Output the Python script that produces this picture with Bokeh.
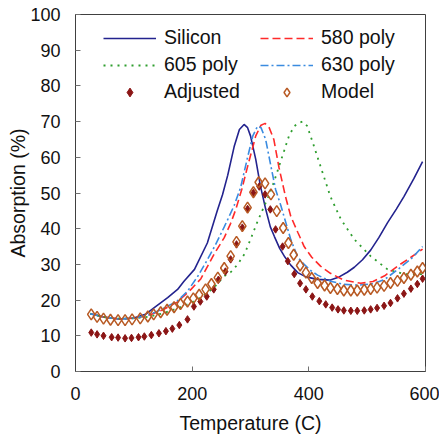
from bokeh.plotting import figure
from bokeh.models import Legend, LegendItem, FixedTicker, Range1d
from bokeh.embed import file_html
from bokeh.resources import INLINE

# ---- data ----
si_t = [25, 50, 75, 100, 120, 135, 158, 175, 186, 204, 226, 243, 252, 261, 272, 281, 289, 295, 300, 309, 317, 326, 334, 341, 350, 358, 369, 381, 395, 415, 437, 452, 466, 478, 492, 506, 520, 535, 550, 563, 580, 595]
si_a = [16.2, 15.2, 14.7, 15.0, 16.0, 17.9, 20.7, 23.0, 25.3, 28.6, 36.0, 45.0, 49.5, 55.0, 63.0, 67.8, 69.2, 68.3, 66.0, 59.4, 52.0, 45.5, 40.5, 37.8, 34.5, 32.3, 29.8, 27.7, 26.5, 25.8, 25.6, 26.5, 27.8, 29.2, 31.3, 34.0, 37.5, 41.7, 45.5, 49.0, 54.0, 58.8]

p580_t = [25, 50, 75, 100, 125, 150, 175, 198, 215, 238, 255, 266, 275, 285, 295, 309, 318, 325, 332, 340, 349, 360, 369, 381, 392, 405, 420, 437, 460, 489, 510, 530, 552, 575, 595]
p580_a = [16.2, 15.2, 14.7, 14.9, 15.7, 17.3, 19.5, 23.0, 26.0, 33.0, 37.5, 41.5, 45.5, 51.0, 57.4, 66.0, 69.0, 69.5, 68.3, 65.0, 57.0, 49.0, 43.5, 39.0, 35.0, 32.0, 29.5, 27.5, 25.6, 24.7, 25.2, 26.8, 29.5, 32.0, 34.3]

p605_t = [25, 50, 75, 100, 125, 150, 170, 198, 212, 226, 240, 255, 266, 278, 290, 300, 312, 324, 332, 340, 349, 358, 366, 375, 382, 389, 397, 406, 420, 437, 455, 478, 506, 535, 563, 580, 595]
p605_a = [16.2, 15.2, 14.8, 14.9, 15.3, 16.3, 17.4, 19.2, 20.5, 22.0, 24.0, 26.7, 27.8, 30.0, 33.0, 37.0, 42.0, 46.5, 49.5, 53.0, 57.5, 62.0, 66.0, 68.7, 69.6, 70.0, 68.8, 64.5, 57.5, 49.0, 42.6, 37.0, 32.3, 28.6, 27.3, 27.2, 27.3]

p630_t = [25, 50, 75, 100, 125, 150, 175, 192, 209, 225, 240, 255, 265, 272, 283, 295, 304, 312, 318, 326, 335, 343, 352, 360, 369, 381, 392, 403, 415, 437, 460, 485, 510, 530, 552, 575, 595]
p630_a = [16.2, 15.2, 14.7, 14.9, 15.8, 17.6, 19.8, 22.5, 26.5, 31.0, 35.5, 40.5, 44.0, 46.5, 51.5, 60.0, 66.0, 68.7, 68.3, 65.0, 57.5, 51.0, 46.5, 42.0, 37.0, 32.0, 30.0, 28.3, 27.0, 25.3, 24.4, 24.2, 24.6, 25.8, 28.5, 31.5, 35.0]

adj_t = [27, 37, 48, 62, 73, 85, 96, 108, 118, 130, 143, 155, 166, 178, 192, 203, 214, 225, 237, 245, 257, 266, 276, 286, 295, 305, 315, 325, 334, 343, 355, 364, 375, 385, 395, 406, 418, 429, 440, 450, 460, 472, 483, 495, 506, 517, 529, 540, 552, 563, 575, 586, 595]
adj_a = [10.9, 10.4, 10.0, 9.6, 9.5, 9.3, 9.4, 9.6, 9.8, 10.2, 10.7, 11.3, 12.0, 13.0, 14.6, 18.2, 19.6, 21.0, 23.0, 25.7, 28.0, 31.4, 35.6, 40.3, 45.5, 50.0, 51.8, 49.6, 45.4, 39.8, 35.0, 30.9, 27.3, 24.7, 23.0, 21.0, 19.7, 18.8, 17.9, 17.4, 17.1, 17.0, 17.0, 17.1, 17.4, 17.8, 18.4, 19.2, 20.5, 21.8, 23.2, 24.5, 26.0]

mod_t = [27, 37, 48, 60, 73, 85, 97, 111, 124, 134, 146, 157, 169, 180, 192, 202, 212, 223, 233, 244, 255, 266, 276, 286, 295, 305, 314, 325, 335, 345, 356, 365, 374, 385, 395, 405, 415, 427, 437, 449, 460, 472, 483, 495, 506, 517, 529, 540, 552, 563, 575, 586, 595]
mod_a = [16.0, 15.3, 14.8, 14.5, 14.4, 14.4, 14.6, 14.9, 15.4, 16.0, 16.6, 17.3, 18.0, 18.9, 19.6, 20.5, 21.5, 23.0, 24.5, 26.3, 29.0, 32.3, 36.3, 40.7, 45.9, 50.2, 53.0, 52.7, 49.6, 44.9, 40.2, 36.0, 32.7, 29.7, 27.7, 26.2, 24.8, 24.1, 23.4, 23.1, 22.7, 22.7, 22.7, 22.9, 23.1, 23.5, 24.0, 24.8, 25.4, 26.2, 27.1, 28.0, 29.0]

x_ticks = [0, 200, 400, 600]
y_ticks = [0, 10, 20, 30, 40, 50, 60, 70, 80, 90, 100]

FONT = "Liberation Sans"

p = figure(width=439, height=436, output_backend="svg", toolbar_location=None,
           x_range=Range1d(0, 600), y_range=Range1d(0, 100),
           min_border_left=75, min_border_right=14, min_border_top=14, min_border_bottom=65,
           x_axis_label="Temperature (C)", y_axis_label="Absorption (%)")

p.xgrid.visible = False
p.ygrid.visible = False
p.outline_line_color = "#404040"
p.outline_line_width = 1
p.background_fill_color = "white"
p.border_fill_color = "white"

p.xaxis.ticker = FixedTicker(ticks=x_ticks)
p.yaxis.ticker = FixedTicker(ticks=y_ticks)
for ax in (p.xaxis[0], p.yaxis[0]):
    ax.major_tick_in = 5
    ax.major_tick_out = 0
    ax.minor_tick_line_color = None
    ax.axis_line_color = "#404040"
    ax.major_tick_line_color = "#707070"
    ax.major_label_text_font = FONT
    ax.major_label_text_font_size = "18px"
    ax.major_label_text_color = "#111111"
    ax.axis_label_text_font = FONT
    ax.axis_label_text_font_size = "19.5px"
    ax.axis_label_text_font_style = "normal"
    ax.axis_label_text_color = "#111111"
p.xaxis.major_label_standoff = 15
p.xaxis.axis_label_standoff = 9
p.yaxis.major_label_standoff = 15
p.yaxis.axis_label_standoff = -2

r_si = p.line(si_t, si_a, line_color="#23238e", line_width=1.6)
r_580 = p.line(p580_t, p580_a, line_color="#ff2a2a", line_width=1.6, line_dash="8 4")
r_605 = p.line(p605_t, p605_a, line_color="#2f9e2f", line_width=1.8, line_dash="2 5")
r_630 = p.line(p630_t, p630_a, line_color="#3a8be0", line_width=1.6, line_dash="8 3 2 3")
r_adj = p.scatter(adj_t, adj_a, marker="diamond", size=7.5,
                  fill_color="#8b1515", line_color="#8b1515", line_width=1)
r_mod = p.scatter(mod_t, mod_a, marker="diamond", size=11,
                  fill_color=None, line_color="#b85a24", line_width=1.5)


def make_legend(items, loc):
    leg = Legend(items=items, location=loc)
    leg.glyph_width = 53
    leg.glyph_height = 22
    leg.label_height = 22
    leg.spacing = 4
    leg.label_standoff = 8
    leg.padding = 0
    leg.margin = 0
    leg.border_line_color = None
    leg.background_fill_alpha = 0
    leg.label_text_font = FONT
    leg.label_text_font_size = "19.5px"
    leg.label_text_color = "#111111"
    return leg


leg1 = make_legend([LegendItem(label="Silicon", renderers=[r_si]),
                    LegendItem(label="605 poly", renderers=[r_605]),
                    LegendItem(label="Adjusted", renderers=[r_adj])], (28, 268))
leg2 = make_legend([LegendItem(label="580 poly", renderers=[r_580]),
                    LegendItem(label="630 poly", renderers=[r_630]),
                    LegendItem(label="Model", renderers=[r_mod])], (185, 268))
p.add_layout(leg1)
p.add_layout(leg2)

open("out.html", "w").write(file_html(p, INLINE))
